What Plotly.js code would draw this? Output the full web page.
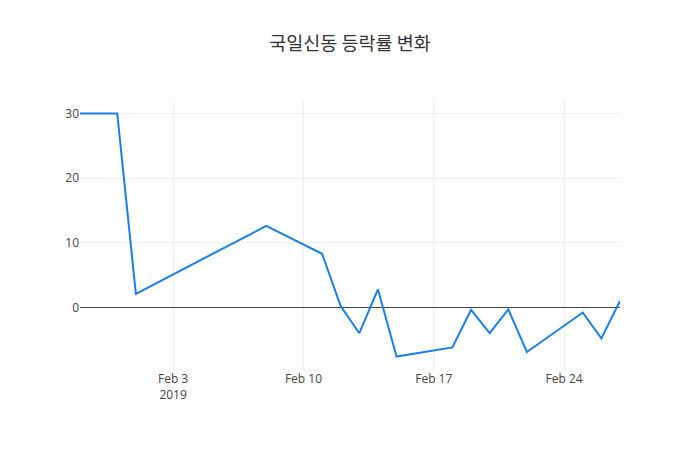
<!DOCTYPE html>
<html>
<head>
<meta charset="utf-8">
<script src="https://cdn.plot.ly/plotly-3.0.1.min.js"></script>
<style>
  html, body { margin: 0; padding: 0; background: #fff; }
  #chart { width: 700px; height: 450px; }
</style>
</head>
<body>
<div id="chart"></div>
<script>
// Data
const dates = [
  '2019-01-29', '2019-01-30', '2019-01-31', '2019-02-01', '2019-02-08',
  '2019-02-11', '2019-02-12', '2019-02-13', '2019-02-14', '2019-02-15',
  '2019-02-18', '2019-02-19', '2019-02-20', '2019-02-21', '2019-02-22',
  '2019-02-25', '2019-02-26', '2019-02-27'
];
const changeRate = [
  30.0, 30.0, 30.0, 2.1, 12.6,
  8.3, 0.2, -4.0, 2.8, -7.6,
  -6.2, -0.4, -4.0, -0.3, -6.9,
  -0.8, -4.8, 1.0
];
const chartTitle = '국일신동 등락률 변화';

Plotly.newPlot('chart', [{
  x: dates,
  y: changeRate,
  type: 'scatter',
  mode: 'lines',
  line: { color: '#1a7fe8', width: 2 }
}], {
  title: { text: chartTitle, font: { family: '"Noto Sans CJK KR", "Open Sans", sans-serif', size: 18.5, color: '#333' } },
  font: { family: '"Open Sans", "Noto Sans CJK KR", sans-serif', color: '#444' },
  width: 700,
  height: 450,
  paper_bgcolor: '#fff',
  plot_bgcolor: '#fff',
  margin: { l: 80, r: 80, t: 100, b: 80 },
  xaxis: { type: 'date', gridcolor: '#eee', showline: false },
  yaxis: { gridcolor: '#eee', zeroline: true, zerolinecolor: '#444', zerolinewidth: 1 }
}, { displayModeBar: false });
</script>
</body>
</html>
